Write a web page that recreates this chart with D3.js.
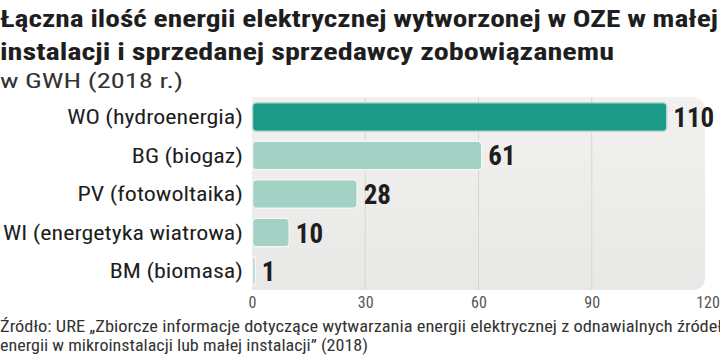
<!DOCTYPE html>
<html><head><meta charset="utf-8">
<script src="https://cdn.jsdelivr.net/npm/d3@7"></script>
<style>
body{margin:0;background:#fff;}
svg{display:block;}
</style></head>
<body><svg id="c" width="720" height="358"></svg>
<script>
const categories = ["WO (hydroenergia)","BG (biogaz)","PV (fotowoltaika)","WI (energetyka wiatrowa)","BM (biomasa)"];
const values = [110, 61, 28, 10, 1];
const ticks = [0, 30, 60, 90, 120];
const titleLines = ["Łączna ilość energii elektrycznej wytworzonej w OZE w małej","instalacji i sprzedanej sprzedawcy zobowiązanemu"];
const subtitle = "w GWH (2018 r.)";
const sourceLines = ["Źródło: URE „Zbiorcze informacje dotyczące wytwarzania energii elektrycznej z odnawialnych źródeł","energii w mikroinstalacji lub małej instalacji” (2018)"];

const svg = d3.select("#c");
const FONT = "'Liberation Sans Narrow','Roboto Condensed','Arial Narrow',Roboto,sans-serif";

function stretch(sel, w){
  sel.attr("textLength", w).attr("lengthAdjust","spacingAndGlyphs");
}

const x = d3.scaleLinear().domain([0,120]).range([252,705]);
const y = d3.scaleBand().domain(categories).range([98,290]).paddingInner(0.26).paddingOuter(0.12);

const defs = svg.append("defs");
const g = defs.append("linearGradient").attr("id","bg").attr("x1",0).attr("x2",0).attr("y1",0).attr("y2",1);
g.append("stop").attr("offset","0").attr("stop-color","#f2f1ef");
g.append("stop").attr("offset","1").attr("stop-color","#e8e8e6");

// plot background
svg.append("rect").attr("x",x(0)).attr("y",97).attr("width",x(120)-x(0)).attr("height",193)
  .attr("rx",12).attr("fill","url(#bg)");
svg.append("rect").attr("x",x(0)).attr("y",97).attr("width",20).attr("height",193).attr("fill","url(#bg)");

// grid
svg.append("g").selectAll("line").data(ticks.slice(1,-1)).join("line")
  .attr("x1",d=>x(d)).attr("x2",d=>x(d)).attr("y1",97).attr("y2",290)
  .attr("stroke","#d6d6d4").attr("stroke-width",1);

// axis
const axis = d3.axisBottom(x).tickValues(ticks).tickSize(0).tickPadding(0);
const ag = svg.append("g").attr("transform","translate(0,293)").call(axis);
ag.select(".domain").remove();
ag.selectAll("text").attr("font-family",FONT).attr("font-size",16).attr("fill","#555").attr("dy","0.95em");
ag.selectAll("text").filter(d=>d===120).attr("text-anchor","end").attr("dx","0.9em");

// bars
svg.append("g").selectAll("rect").data(values).join("rect")
  .attr("x",x(0)+0.5).attr("y",(d,i)=>y(categories[i]))
  .attr("width",d=>Math.max(x(d)-x(0)-1,2)).attr("height",y.bandwidth())
  .attr("rx",4)
  .attr("fill",(d,i)=>i===0?"#1a9a87":"#a3d1c4")
  .attr("stroke",(d,i)=>i===0?"#b8d8cf":"#f4f6f4").attr("stroke-width",1.5);

// value labels
svg.append("g").selectAll("text").data(values).join("text")
  .attr("x",d=>Math.max(x(d),x(0)+3)+6).attr("y",(d,i)=>y(categories[i])+y.bandwidth()/2)
  .attr("dy","0.37em").attr("font-family",FONT).attr("font-weight","bold").attr("font-size",27)
  .attr("fill","#1e1e1e").text(d=>d);

// category labels
const cl = svg.append("g").selectAll("text").data(categories).join("text")
  .attr("x",243).attr("y",d=>y(d)+y.bandwidth()/2).attr("dy","0.36em").attr("text-anchor","end")
  .attr("font-family",FONT).attr("font-size",20).attr("fill","#1e1e1e").text(d=>d);
const k = 240 / cl.nodes()[3].getComputedTextLength();
cl.each(function(){ stretch(d3.select(this), this.getComputedTextLength()*k); });

// title
const t1 = svg.append("text").attr("x",0).attr("y",27).attr("font-family",FONT).attr("font-weight","bold")
  .attr("font-size",24).attr("fill","#1e1e1e").text(titleLines[0]);
stretch(t1,718);
const t2 = svg.append("text").attr("x",0).attr("y",60).attr("font-family",FONT).attr("font-weight","bold")
  .attr("font-size",24).attr("fill","#1e1e1e").text(titleLines[1]);
stretch(t2,614);
const st = svg.append("text").attr("x",0).attr("y",88).attr("font-family",FONT)
  .attr("font-size",21).attr("fill","#333").text(subtitle);
stretch(st,183);

// source
const s1 = svg.append("text").attr("x",0).attr("y",332).attr("font-family",FONT)
  .attr("font-size",16).attr("fill","#333").text(sourceLines[0]);
stretch(s1,722);
const s2 = svg.append("text").attr("x",0).attr("y",351).attr("font-family",FONT)
  .attr("font-size",16).attr("fill","#333").text(sourceLines[1]);
stretch(s2,368);
</script></body></html>
